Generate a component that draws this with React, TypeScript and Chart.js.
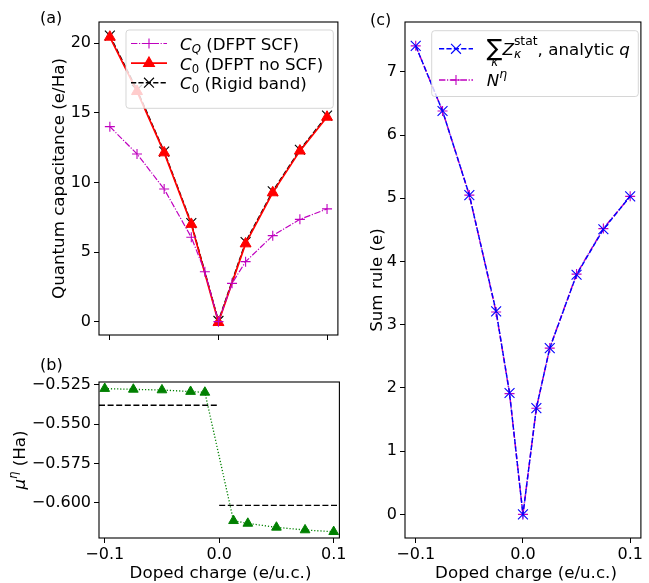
import React, { useEffect, useRef } from 'react';
import { Chart, registerables } from 'chart.js';

Chart.register(...registerables);

// ---------------- data ----------------
const dopedChargeFull = [-0.1, -0.075, -0.05, -0.025, -0.0125, 0, 0.0125, 0.025, 0.05, 0.075, 0.1];
const capQuantumScf = [14.01, 12.05, 9.53, 6.06, 3.59, 0.0, 2.75, 4.31, 6.18, 7.35, 8.1];
const dopedChargeC0 = [-0.1, -0.075, -0.05, -0.025, 0, 0.025, 0.05, 0.075, 0.1];
const capC0NoScf = [20.45, 16.55, 12.14, 7.0, -0.05, 5.6, 9.27, 12.27, 14.7];
const capC0Rigid = [20.55, 16.65, 12.22, 7.08, 0.05, 5.72, 9.37, 12.35, 14.8];
const dopedChargeMu = [-0.1, -0.075, -0.05, -0.025, -0.0125, 0.0125, 0.025, 0.05, 0.075, 0.1];
const chemPotential = [-0.5273, -0.5278, -0.5282, -0.5292, -0.5297, -0.6115, -0.6132, -0.6157, -0.6174, -0.6185];
const rigidLevelBounds = [-0.105, 0, 0.105];
const rigidLevels = [-0.5379, -0.6017];
const sumRuleZ = [7.41, 6.38, 5.05, 3.21, 1.92, 0.0, 1.68, 2.63, 3.79, 4.51, 5.03];
const sumRuleN = [7.41, 6.38, 5.05, 3.2, 1.91, 0.0, 1.68, 2.63, 3.8, 4.52, 5.03];
const xTickValues = [-0.1, 0, 0.1];
const xTickLabels = ['\u22120.1', '0.0', '0.1'];
const yTicksA = [0, 5, 10, 15, 20];
const yTicksB = [-0.6, -0.575, -0.55, -0.525];
const yTickLabelsB = ['\u22120.600', '\u22120.575', '\u22120.550', '\u22120.525'];
const yTicksC = [0, 1, 2, 3, 4, 5, 6, 7];

// ---------------- styles ----------------
const FONT = '"DejaVu Sans"';
const BASE = 16.7;
const TICK = 16;
const MAG = '#bf00bf';
const RED = '#ff0000';
const BLK = '#000000';
const GRN = '#008000';
const BLU = '#0000ff';
const DASHED = [5.2, 2.2];
const DASHED_B = [6, 2.6];
const DASHDOT = [6.4, 1.6, 1.2, 1.6];
const DOTTED = [1.2, 1.9];

Chart.defaults.font.family = FONT;
Chart.defaults.color = '#000';

type Piece = { t: string; it?: boolean; s?: number; dy?: number };
type Seg = Piece | { stack: Piece[]; center?: boolean; gap?: number };

function pieceFont(p: Piece, base: number) {
  return `${p.it ? 'italic ' : ''}${(p.s ?? 1) * base}px ${FONT}`;
}

function drawRich(ctx: CanvasRenderingContext2D, segs: Seg[], x: number, y: number, base: number, draw = true) {
  let cx = x;
  ctx.textAlign = 'left';
  ctx.textBaseline = 'alphabetic';
  for (const sg of segs) {
    if ('stack' in sg) {
      const ws = sg.stack.map((p) => { ctx.font = pieceFont(p, base); return ctx.measureText(p.t).width; });
      const mw = Math.max(...ws);
      sg.stack.forEach((p, i) => {
        ctx.font = pieceFont(p, base);
        const off = sg.center ? (mw - ws[i]) / 2 : 0;
        if (draw) ctx.fillText(p.t, cx + off, y + (p.dy ?? 0) * base);
      });
      cx += mw + (sg.gap ?? 0) * base;
    } else {
      ctx.font = pieceFont(sg, base);
      if (draw) ctx.fillText(sg.t, cx, y + (sg.dy ?? 0) * base);
      cx += ctx.measureText(sg.t).width;
    }
  }
  return cx - x;
}

function drawCentered(ctx: CanvasRenderingContext2D, segs: Seg[], cx: number, y: number, base: number) {
  const w = drawRich(ctx, segs, 0, 0, base, false);
  drawRich(ctx, segs, cx - w / 2, y, base, true);
}

function drawVertical(ctx: CanvasRenderingContext2D, segs: Seg[], bx: number, cy: number, base: number) {
  ctx.save();
  ctx.translate(bx, cy);
  ctx.rotate(-Math.PI / 2);
  const w = drawRich(ctx, segs, 0, 0, base, false);
  drawRich(ctx, segs, -w / 2, 0, base, true);
  ctx.restore();
}

function drawMarker(ctx: CanvasRenderingContext2D, style: string, x: number, y: number, r: number, color: string, lw: number) {
  ctx.save();
  ctx.setLineDash([]);
  ctx.strokeStyle = color;
  ctx.fillStyle = color;
  ctx.lineWidth = lw;
  ctx.beginPath();
  if (style === 'triangle') {
    for (let k = 0; k < 3; k++) {
      const a = (k * 2 * Math.PI) / 3;
      const px = x + Math.sin(a) * r;
      const py = y - Math.cos(a) * r;
      if (k) ctx.lineTo(px, py); else ctx.moveTo(px, py);
    }
    ctx.closePath();
    ctx.fill();
    ctx.stroke();
  } else if (style === 'cross') {
    ctx.moveTo(x - r, y); ctx.lineTo(x + r, y);
    ctx.moveTo(x, y - r); ctx.lineTo(x, y + r);
    ctx.stroke();
  } else {
    const d = r * Math.SQRT1_2;
    ctx.moveTo(x - d, y - d); ctx.lineTo(x + d, y + d);
    ctx.moveTo(x - d, y + d); ctx.lineTo(x + d, y - d);
    ctx.stroke();
  }
  ctx.restore();
}

function roundRect(ctx: CanvasRenderingContext2D, x: number, y: number, w: number, h: number, r: number) {
  ctx.beginPath();
  ctx.moveTo(x + r, y);
  ctx.lineTo(x + w - r, y);
  ctx.arcTo(x + w, y, x + w, y + r, r);
  ctx.lineTo(x + w, y + h - r);
  ctx.arcTo(x + w, y + h, x + w - r, y + h, r);
  ctx.lineTo(x + r, y + h);
  ctx.arcTo(x, y + h, x, y + h - r, r);
  ctx.lineTo(x, y + r);
  ctx.arcTo(x, y, x + r, y, r);
  ctx.closePath();
}

type LegendItem = { segs: Seg[]; color: string; dash: number[]; lw: number; marker: string; r: number; y: number; base: number };

function drawLegend(ctx: CanvasRenderingContext2D, box: [number, number, number, number], hx1: number, hx2: number, tx: number, items: LegendItem[]) {
  ctx.save();
  roundRect(ctx, box[0], box[1], box[2] - box[0], box[3] - box[1], 3);
  ctx.fillStyle = 'rgba(255,255,255,0.8)';
  ctx.fill();
  ctx.strokeStyle = 'rgba(204,204,204,0.8)';
  ctx.lineWidth = 1;
  ctx.stroke();
  for (const it of items) {
    ctx.save();
    ctx.strokeStyle = it.color;
    ctx.lineWidth = it.lw;
    ctx.setLineDash(it.dash);
    ctx.beginPath();
    ctx.moveTo(hx1, it.y);
    ctx.lineTo(hx2, it.y);
    ctx.stroke();
    ctx.restore();
    drawMarker(ctx, it.marker, (hx1 + hx2) / 2, it.y, it.r, it.color, 1.1);
    ctx.fillStyle = '#000';
    drawRich(ctx, it.segs, tx, it.y + it.base, BASE, true);
  }
  ctx.restore();
}

function drawFrame(chart: any) {
  const { ctx, chartArea: a } = chart;
  ctx.save();
  ctx.strokeStyle = '#000';
  ctx.lineWidth = 1.1;
  ctx.setLineDash([]);
  ctx.strokeRect(a.left, a.top, a.right - a.left, a.bottom - a.top);
  ctx.restore();
}

function xScale(min: number, max: number, height: number, showLabels: boolean) {
  return {
    type: 'linear',
    min,
    max,
    afterBuildTicks: (s: any) => { s.ticks = xTickValues.map((v) => ({ value: v })); },
    afterFit: (s: any) => { s.height = height; s.paddingLeft = 0; s.paddingRight = 0; },
    ticks: {
      display: showLabels,
      autoSkip: false,
      maxRotation: 0,
      padding: 2,
      font: { family: FONT, size: TICK },
      color: '#000',
      callback: (_v: any, i: number) => xTickLabels[i],
    },
    grid: { drawOnChartArea: false, drawTicks: true, tickLength: 5, color: '#000', lineWidth: 1 },
    border: { display: false },
  };
}

function yScale(min: number, max: number, width: number, values: number[], labels: string[]) {
  return {
    type: 'linear',
    min,
    max,
    afterBuildTicks: (s: any) => { s.ticks = values.map((v) => ({ value: v })); },
    afterFit: (s: any) => { s.width = width; s.paddingTop = 0; s.paddingBottom = 0; },
    ticks: {
      autoSkip: false,
      padding: 3,
      font: { family: FONT, size: TICK },
      color: '#000',
      callback: (_v: any, i: number) => labels[i],
    },
    grid: { drawOnChartArea: false, drawTicks: true, tickLength: 5, color: '#000', lineWidth: 1 },
    border: { display: false },
  };
}

function pts(xs: number[], ys: number[]) {
  return xs.map((x, i) => ({ x, y: ys[i] }));
}

function baseOptions(padding: any, scales: any) {
  return {
    animation: false,
    responsive: false,
    maintainAspectRatio: false,
    events: [],
    layout: { padding },
    plugins: { legend: { display: false }, tooltip: { enabled: false }, title: { display: false } },
    scales,
  };
}

function lineDs(data: any[], color: string, dash: number[], lw: number, marker: string | false, r: number, extra: any = {}) {
  return {
    data,
    borderColor: color,
    backgroundColor: color,
    borderWidth: lw,
    borderDash: dash,
    pointStyle: marker || 'circle',
    pointRadius: marker ? r : 0,
    pointBorderColor: color,
    pointBackgroundColor: color,
    pointBorderWidth: 1.1,
    fill: false,
    tension: 0,
    ...extra,
  };
}

const legendAItems: LegendItem[] = [
  { segs: [{ t: 'C', it: true }, { t: 'Q', it: true, s: 0.7, dy: 0.22 }, { t: ' (DFPT SCF)' }], color: MAG, dash: DASHDOT, lw: 1.2, marker: 'cross', r: 5, y: 43.5, base: 6.3 },
  { segs: [{ t: 'C', it: true }, { t: '0', s: 0.7, dy: 0.22 }, { t: ' (DFPT no SCF)' }], color: RED, dash: [], lw: 1.7, marker: 'triangle', r: 6.3, y: 63.2, base: 6.3 },
  { segs: [{ t: 'C', it: true }, { t: '0', s: 0.7, dy: 0.22 }, { t: ' (Rigid band)' }], color: BLK, dash: DASHED, lw: 1.4, marker: 'crossRot', r: 7, y: 82.7, base: 6.3 },
];

const legendCItems: LegendItem[] = [
  {
    segs: [
      { stack: [{ t: '\u2211', s: 1.4, dy: 0.05 }, { t: '\u03ba', it: true, s: 0.7, dy: 0.7 }], center: true, gap: 0.0 },
      { t: 'Z', it: true },
      { stack: [{ t: 'stat', s: 0.74, dy: -0.58 }, { t: '\u03ba', it: true, s: 0.74, dy: 0.2 }] },
      { t: ', analytic ' },
      { t: 'q', it: true },
    ],
    color: BLU, dash: DASHED, lw: 1.4, marker: 'crossRot', r: 7, y: 48.8, base: 6.0,
  },
  { segs: [{ t: 'N', it: true }, { t: '\u03b7', it: true, s: 0.74, dy: -0.42 }], color: MAG, dash: DASHDOT, lw: 1.5, marker: 'cross', r: 5, y: 80, base: 5.5 },
];

export default function App() {
  const refA = useRef<HTMLCanvasElement>(null);
  const refB = useRef<HTMLCanvasElement>(null);
  const refC = useRef<HTMLCanvasElement>(null);

  useEffect(() => {
    const chartA = new Chart(refA.current as HTMLCanvasElement, {
      type: 'line',
      data: {
        datasets: [
          lineDs(pts(dopedChargeFull, capQuantumScf), MAG, DASHDOT, 1.2, 'cross', 5),
          lineDs(pts(dopedChargeC0, capC0NoScf), RED, [], 1.7, 'triangle', 6.3, { pointBorderWidth: 1 }),
          lineDs(pts(dopedChargeC0, capC0Rigid), BLK, DASHED, 1.4, 'crossRot', 7),
        ] as any,
      },
      options: baseOptions({ top: 22, right: 4, left: 0, bottom: 0 }, {
        x: xScale(-0.11, 0.11, 10, false),
        y: yScale(-0.96, 21.53, 99, yTicksA, yTicksA.map(String)),
      }) as any,
      plugins: [{
        id: 'decorA',
        afterDraw(chart: any) {
          const ctx = chart.ctx;
          drawFrame(chart);
          ctx.fillStyle = '#000';
          drawRich(ctx, [{ t: '(a)' }], 40, 23, 16);
          drawVertical(ctx, [{ t: 'Quantum capacitance (e/Ha)' }], 64, 178.5, BASE);
          drawLegend(ctx, [126, 30, 333.3, 108.3], 131, 167, 180, legendAItems);
        },
      }],
    });

    const chartB = new Chart(refB.current as HTMLCanvasElement, {
      type: 'line',
      data: {
        datasets: [
          lineDs(pts(dopedChargeMu, chemPotential), GRN, DOTTED, 1.3, 'triangle', 5.6, { pointBorderWidth: 1 }),
          lineDs(pts([rigidLevelBounds[0], rigidLevelBounds[1]], [rigidLevels[0], rigidLevels[0]]), BLK, DASHED_B, 1.4, false, 0),
          lineDs(pts([rigidLevelBounds[1], rigidLevelBounds[2]], [rigidLevels[1], rigidLevels[1]]), BLK, DASHED_B, 1.4, false, 0),
        ] as any,
      },
      options: baseOptions({ top: 37, right: 4, left: 0, bottom: 0 }, {
        x: xScale(-0.105, 0.105, 45, true),
        y: yScale(-0.6225, -0.5231, 99, yTicksB, yTickLabelsB),
      }) as any,
      plugins: [{
        id: 'decorB',
        afterDraw(chart: any) {
          const ctx = chart.ctx;
          drawFrame(chart);
          ctx.fillStyle = '#000';
          drawRich(ctx, [{ t: '(b)' }], 40, 25, 16);
          drawVertical(ctx, [{ t: '\u03bc', it: true }, { t: '\u03b7', it: true, s: 0.7, dy: -0.42 }, { t: ' (Ha)' }], 24.5, 115, BASE);
          drawCentered(ctx, [{ t: 'Doped charge (e/u.c.)' }], 220.5, 232.5, BASE);
        },
      }],
    });

    const chartC = new Chart(refC.current as HTMLCanvasElement, {
      type: 'line',
      data: {
        datasets: [
          lineDs(pts(dopedChargeFull, sumRuleZ), BLU, DASHED, 1.4, 'crossRot', 7),
          lineDs(pts(dopedChargeFull, sumRuleN), MAG, DASHDOT, 1.5, 'cross', 5),
        ] as any,
      },
      options: baseOptions({ top: 22, right: 2, left: 0, bottom: 0 }, {
        x: xScale(-0.11, 0.11, 45, true),
        y: yScale(-0.373, 7.787, 60, yTicksC, yTicksC.map(String)),
      }) as any,
      plugins: [{
        id: 'decorC',
        afterDraw(chart: any) {
          const ctx = chart.ctx;
          drawFrame(chart);
          ctx.fillStyle = '#000';
          drawRich(ctx, [{ t: '(c)' }], 25, 25, 16);
          drawVertical(ctx, [{ t: 'Sum rule (e)' }], 36.5, 280, BASE);
          drawCentered(ctx, [{ t: 'Doped charge (e/u.c.)' }], 181, 577.5, BASE);
          drawLegend(ctx, [86.7, 30.7, 293.3, 96.5], 94, 128, 141.7, legendCItems);
        },
      }],
    });

    return () => {
      chartA.destroy();
      chartB.destroy();
      chartC.destroy();
    };
  }, []);

  return (
    <div style={{ position: 'fixed', left: 0, top: 0, width: 649, height: 583, background: '#fff' }}>
      <canvas ref={refA} width={346} height={345} style={{ position: 'absolute', left: 0, top: 0, width: 346, height: 345 }} />
      <canvas ref={refB} width={346} height={238} style={{ position: 'absolute', left: 0, top: 345, width: 346, height: 238 }} />
      <canvas ref={refC} width={304} height={583} style={{ position: 'absolute', left: 345, top: 0, width: 304, height: 583 }} />
    </div>
  );
}
